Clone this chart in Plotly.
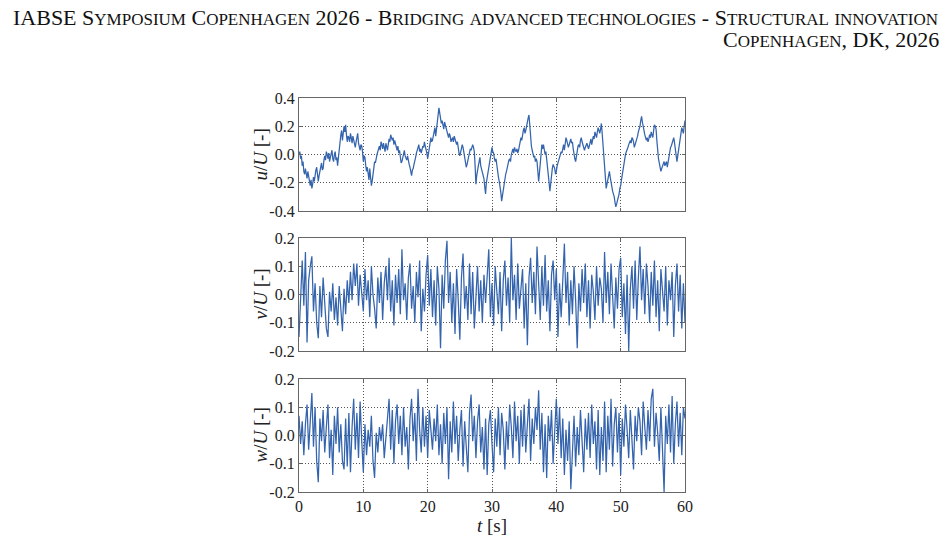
import numpy as np
import plotly.graph_objects as go

# ---------------- data ----------------
# u/U sampled every 0.125 s
u_vals = [
    0.00, 0.02, -0.03, -0.01, -0.08, -0.05, -0.12, -0.14, -0.10, -0.13, -0.17, -0.12,
    -0.15, -0.19, -0.22, -0.18, -0.24, -0.21, -0.16, -0.19, -0.14, -0.11, -0.09, -0.14,
    -0.19, -0.15, -0.12, -0.09, -0.06, -0.11, -0.10, -0.04, -0.01, -0.04, 0.02, 0.00,
    -0.03, 0.01, -0.05, -0.02, 0.01, 0.03, -0.03, -0.05, 0.00, 0.02, -0.04, -0.02,
    -0.08, -0.02, 0.05, 0.10, 0.14, 0.17, 0.10, 0.15, 0.20, 0.16, 0.21, 0.14,
    0.09, 0.13, 0.12, 0.09, 0.15, 0.12, 0.08, 0.13, 0.10, 0.07, 0.05, 0.09,
    0.12, 0.15, 0.08, 0.05, 0.03, 0.07, 0.06, 0.02, -0.05, -0.01, -0.02, -0.08,
    -0.12, -0.09, -0.15, -0.18, -0.10, -0.17, -0.22, -0.19, -0.14, -0.09, -0.05, -0.06,
    -0.02, 0.00, 0.02, 0.05, 0.06, 0.03, 0.09, 0.07, 0.04, 0.08, 0.05, 0.02,
    0.08, 0.05, 0.03, 0.07, 0.11, 0.09, 0.14, 0.12, 0.10, 0.12, 0.07, 0.10,
    0.07, 0.05, 0.03, 0.06, 0.01, 0.03, -0.02, -0.06, -0.05, -0.02, 0.00, 0.03,
    -0.01, -0.03, -0.04, -0.01, -0.05, -0.07, -0.09, -0.12, -0.15, -0.11, -0.10, -0.07,
    -0.05, -0.02, 0.01, 0.03, 0.05, 0.07, 0.02, 0.04, 0.01, 0.04, 0.06, 0.05,
    0.09, 0.06, 0.04, 0.01, -0.03, 0.02, 0.06, 0.08, 0.12, 0.09, 0.10, 0.13,
    0.16, 0.19, 0.13, 0.17, 0.22, 0.28, 0.33, 0.29, 0.27, 0.22, 0.24, 0.20,
    0.18, 0.23, 0.21, 0.18, 0.16, 0.14, 0.12, 0.15, 0.13, 0.09, 0.10, 0.12,
    0.09, 0.13, 0.11, 0.08, 0.07, 0.09, 0.04, 0.01, -0.01, 0.02, 0.03, 0.07,
    0.05, 0.01, -0.02, -0.05, -0.09, -0.07, -0.04, -0.01, 0.00, 0.04, 0.03, 0.05,
    0.07, 0.05, 0.02, -0.08, -0.21, -0.15, -0.10, -0.08, -0.05, -0.02, -0.08, -0.10,
    -0.12, -0.14, -0.17, -0.23, -0.28, -0.20, -0.16, -0.12, -0.09, -0.05, 0.00, 0.03,
    0.05, 0.02, 0.01, -0.03, -0.05, -0.03, -0.09, -0.13, -0.16, -0.19, -0.22, -0.27,
    -0.33, -0.29, -0.25, -0.20, -0.16, -0.14, -0.12, -0.09, -0.07, -0.04, -0.03, -0.05,
    0.00, 0.02, 0.04, 0.01, 0.05, 0.03, 0.02, 0.04, 0.01, 0.03, 0.06, 0.09,
    0.12, 0.10, 0.15, 0.17, 0.19, 0.15, 0.17, 0.21, 0.24, 0.26, 0.28, 0.18,
    0.09, 0.06, 0.03, 0.01, -0.02, -0.01, -0.05, -0.03, -0.05, -0.12, -0.19, -0.13,
    -0.08, 0.00, 0.07, 0.04, 0.07, 0.03, 0.00, 0.02, -0.05, -0.09, -0.13, -0.20,
    -0.26, -0.19, -0.15, -0.10, -0.07, -0.09, -0.10, -0.14, -0.12, -0.08, -0.05, -0.04,
    -0.02, 0.00, 0.02, 0.01, 0.05, 0.07, 0.03, 0.08, 0.12, 0.10, 0.08, 0.05,
    0.07, 0.09, 0.11, 0.08, 0.09, 0.04, -0.01, -0.03, -0.05, -0.01, 0.04, 0.06,
    0.07, 0.05, 0.10, 0.12, 0.09, 0.07, 0.06, 0.03, 0.05, 0.06, 0.08, 0.06,
    0.04, 0.06, 0.09, 0.11, 0.07, 0.10, 0.13, 0.11, 0.16, 0.14, 0.12, 0.16,
    0.19, 0.17, 0.15, 0.18, 0.22, 0.15, 0.07, -0.02, -0.10, -0.17, -0.24, -0.21,
    -0.18, -0.15, -0.12, -0.16, -0.20, -0.23, -0.26, -0.28, -0.30, -0.34, -0.37, -0.35,
    -0.33, -0.31, -0.28, -0.24, -0.22, -0.18, -0.14, -0.11, -0.08, -0.05, 0.00, 0.02,
    0.03, 0.05, 0.07, 0.09, 0.10, 0.08, 0.12, 0.11, 0.09, 0.05, 0.07, 0.08,
    0.10, 0.13, 0.16, 0.18, 0.20, 0.24, 0.27, 0.23, 0.19, 0.16, 0.14, 0.12,
    0.10, 0.12, 0.09, 0.11, 0.14, 0.12, 0.16, 0.14, 0.12, 0.17, 0.21, 0.20,
    0.18, 0.10, 0.02, -0.03, -0.06, -0.09, -0.12, -0.10, -0.08, -0.06, -0.05, -0.08,
    -0.07, -0.05, -0.09, -0.05, -0.02, 0.02, 0.05, 0.06, 0.08, 0.10, 0.12, 0.08,
    0.04, 0.00, -0.05, -0.01, 0.03, 0.06, 0.10, 0.14, 0.19, 0.17, 0.15, 0.20,
    0.24,
]

# v/U and w/U sampled every 0.25 s
v_vals = [
    -0.15, 0.02, 0.12, -0.04,  0.15, -0.17, 0.05, 0.10,  0.135, -0.06, 0.04, -0.10,
    -0.155, 0.03, -0.08, 0.06,  -0.02, -0.12, -0.15, 0.01,  -0.06, 0.04, -0.09, -0.01,
    -0.11, 0.03, -0.05, -0.13,  0.02, -0.07, 0.05, -0.03,  0.08, -0.02, 0.11, 0.03,
    0.11, -0.04, 0.07, 0.01,  -0.06, 0.09, -0.02, 0.05,  -0.08, 0.10, 0.00, -0.05,
    -0.12, 0.06, -0.03, 0.08,  -0.09, 0.04, 0.10, -0.02,  0.13, -0.06, 0.05, -0.11,
    0.07, -0.03, 0.09, -0.07,  0.16, -0.02, 0.04, -0.09,  0.06, 0.11, -0.05, 0.03,
    -0.10, 0.08, -0.01, 0.12,  -0.13, 0.02, -0.06, 0.07,  0.14, -0.04, 0.09, -0.08,
    0.05, -0.11, 0.10, 0.02,  -0.19, 0.07, -0.05, 0.12,  0.19, -0.03, 0.08, -0.10,
    0.04, -0.14, 0.09, -0.02,  -0.16, 0.06, 0.145, -0.05,  0.03, -0.09, 0.11, -0.07,
    0.08, -0.12, 0.02, 0.10,  -0.06, 0.05, -0.10, 0.07,  -0.03, 0.09, 0.16, -0.08,
    0.04, -0.11, 0.10, 0.01,  -0.07, 0.08, -0.13, 0.05,  0.12, -0.04, 0.06, -0.10,
    0.20, -0.02, 0.07, -0.09,  0.11, -0.05, 0.03, 0.09,  -0.12, 0.04, -0.18, 0.06,
    0.13, -0.03, 0.08, -0.07,  0.17, 0.02, -0.09, 0.10,  -0.04, 0.14, -0.06, 0.05,
    -0.13, 0.07, 0.12, -0.02,  0.09, -0.15, 0.04, -0.08,  0.06, 0.18, -0.03, 0.08,
    -0.11, 0.05, -0.07, 0.10,  -0.02, -0.19, 0.04, -0.06,  0.09, -0.03, 0.11, -0.08,
    0.05, -0.12, 0.07, 0.01,  -0.09, 0.10, -0.04, 0.06,  0.02, -0.10, 0.15, -0.03,
    0.08, -0.07, 0.11, 0.00,  -0.12, 0.06, -0.05, 0.09,  0.13, -0.08, 0.04, -0.14,
    0.07, -0.20, 0.02, 0.10,  -0.05, 0.12, -0.09, 0.06,  0.17, -0.02, 0.09, -0.07,
    0.11, 0.03, -0.10, 0.08,  -0.04, 0.12, -0.08, 0.05,  -0.13, 0.09, 0.01, -0.06,
    0.10, -0.11, 0.05, -0.02,  0.08, -0.15, 0.03, 0.11,  -0.06, 0.07, -0.12, 0.04,
    -0.10,
]

w_vals = [
    0.07, -0.03, 0.05, -0.07,  0.04, 0.11, -0.05, 0.08,  0.15, -0.04, 0.10, -0.09,
    -0.165, 0.06, -0.02, 0.09,  -0.06, 0.03, 0.11, -0.08,  0.02, -0.14, 0.07, -0.03,
    0.10, -0.06, 0.04, -0.09,  -0.12, 0.06, -0.11, 0.08,  -0.13, 0.03, 0.13, -0.05,
    0.08, -0.08, 0.12, -0.02,  -0.13, 0.04, -0.07, 0.02,  -0.04, 0.07, -0.09, -0.15,
    0.01, -0.06, 0.03, -0.02,  0.04, -0.08, 0.00, 0.06,  0.13, -0.05, 0.09, -0.10,
    0.05, 0.11, -0.03, 0.07,  -0.07, 0.10, -0.04, 0.03,  -0.12, 0.06, 0.13, -0.02,
    0.08, -0.09, 0.165, 0.02,  -0.06, 0.10, -0.04, 0.07,  -0.08, 0.09, 0.02, -0.05,
    0.06, -0.02, 0.11, -0.07,  0.04, -0.10, 0.08, -0.03,  0.10, -0.155, 0.05, -0.06,
    0.12, -0.03, 0.07, -0.09,  0.02, 0.09, -0.11, 0.05,  -0.04, -0.13, 0.08, 0.145,
    -0.02, 0.07, -0.08, 0.05,  0.11, -0.06, 0.03, -0.12,  0.06, -0.14, 0.04, 0.09,
    -0.03, -0.13, 0.06, -0.04,  0.10, -0.07, 0.08, 0.02,  -0.12, 0.05, -0.05, 0.11,
    0.03, -0.08, 0.12, -0.02,  0.07, -0.10, 0.09, -0.04,  0.11, -0.06, 0.04, 0.13,
    -0.09, 0.06, -0.03, 0.10,  0.02, 0.16, -0.05, 0.08,  -0.13, 0.04, -0.15, 0.07,
    -0.02, 0.09, -0.10, 0.05,  0.13, -0.03, 0.10, -0.08,  0.06, -0.14, 0.02, -0.09,
    0.05, -0.19, -0.04, 0.07,  -0.11, 0.03, -0.07, 0.09,  -0.02, -0.13, 0.06, -0.05,
    0.08, -0.08, 0.11, -0.03,  0.05, -0.12, 0.09, -0.14,  0.03, -0.09, 0.12, -0.13,
    0.07, -0.05, 0.13, -0.11,  0.04, 0.10, -0.06, 0.08,  -0.14, 0.06, -0.04, 0.11,
    0.02, -0.08, 0.09, -0.03,  -0.12, 0.07, -0.02, 0.10,  0.05, -0.07, 0.12, 0.03,
    -0.05, 0.09, -0.02, 0.13,  0.165, -0.04, 0.08, 0.01,  -0.09, 0.10, -0.05, -0.20,
    0.07, -0.03, 0.11, -0.06,  0.14, -0.10, 0.04, 0.12,  -0.04, 0.08, -0.07, 0.10,
    0.06,
]

x_ticks = [0, 10, 20, 30, 40, 50, 60]
x_ticktext = ["0", "10", "20", "30", "40", "50", "60"]
u_ticks = [-0.4, -0.2, 0.0, 0.2, 0.4]
u_ticktext = ["-0.4", "-0.2", "0.0", "0.2", "0.4"]
vw_ticks = [-0.2, -0.1, 0.0, 0.1, 0.2]
vw_ticktext = ["-0.2", "-0.1", "0.0", "0.1", "0.2"]
T_END = 60

# ---------------- figure ----------------
FONT = "Liberation Serif"
LINE = "#3464ad"
fig = go.Figure()
for i, vals in enumerate([u_vals, v_vals, w_vals]):
    sfx = "" if i == 0 else str(i + 1)
    t_vals = np.linspace(0, T_END, len(vals))
    fig.add_trace(go.Scatter(x=t_vals, y=vals, mode="lines",
                             line=dict(color=LINE, width=1.25),
                             xaxis="x" + sfx, yaxis="y" + sfx, showlegend=False,
                             hoverinfo="skip"))

W, H = 947, 541
L, R, T, B = 299, 262, 98, 49
ph = H - T - B
pw = W - L - R
def ydom(top, bot):
    return [(H - B - bot) / ph, (H - B - top) / ph]
def px_x(x):
    return (x - L) / pw
def px_y(y):
    return (H - B - y) / ph

common_ax = dict(showline=True, linecolor="#666666", linewidth=1.2, mirror="ticks",
                 ticks="inside", ticklen=3, tickcolor="#666666",
                 showgrid=True, gridcolor="#555555", griddash="1px,2px", gridwidth=1,
                 zeroline=False,
                 tickfont=dict(family=FONT, size=16, color="#222222"))

doms = [ydom(98, 211), ydom(238, 351), ydom(379, 492)]
yranges = [[-0.4, 0.4], [-0.2, 0.2], [-0.2, 0.2]]
yticks = [(u_ticks, u_ticktext), (vw_ticks, vw_ticktext), (vw_ticks, vw_ticktext)]
layout = dict(width=W, height=H, margin=dict(l=L, r=R, t=T, b=B),
              paper_bgcolor="white", plot_bgcolor="white",
              font=dict(family=FONT, color="#222222"))
for i in range(3):
    sfx = "" if i == 0 else str(i + 1)
    layout["xaxis" + sfx] = dict(common_ax, range=[0, T_END], anchor="y" + sfx,
                                 tickmode="array", tickvals=x_ticks, ticktext=x_ticktext,
                                 showticklabels=(i == 2))
    layout["yaxis" + sfx] = dict(common_ax, range=yranges[i], domain=doms[i],
                                 anchor="x" + sfx, tickmode="array",
                                 tickvals=yticks[i][0], ticktext=yticks[i][1])
fig.update_layout(**layout)

# axis titles
ytitles = ["<i>u</i>/<i>U</i> [-]", "<i>v</i>/<i>U</i> [-]", "<i>w</i>/<i>U</i> [-]"]
centers = [154.5, 294.5, 435.5]
for txt, yc in zip(ytitles, centers):
    fig.add_annotation(text=txt, xref="paper", yref="paper", x=px_x(260), y=px_y(yc),
                       xanchor="center", yanchor="middle", textangle=-90, showarrow=False,
                       font=dict(family=FONT, size=19, color="#222222"))
fig.add_annotation(text="<i>t</i> [s]", xref="paper", yref="paper", x=px_x(492), y=px_y(525),
                   xanchor="center", yanchor="middle", showarrow=False,
                   font=dict(family=FONT, size=19, color="#222222"))

# header (small caps imitation)
BIG, SMALL = 22, 17
def sc(word):
    return word[0] + '<span style="font-size:%dpx">%s</span>' % (SMALL, word[1:].upper())
def allsc(text):
    return '<span style="font-size:%dpx">%s</span>' % (SMALL, text.upper())

line1 = ("IABSE " + sc("Symposium") + " " + sc("Copenhagen") + " 2026 - " + sc("Bridging") + " "
         + allsc("advanced technologies") + " - " + sc("Structural") + " " + allsc("innovation"))
line2 = sc("Copenhagen") + ", DK, 2026"
fig.add_annotation(text=line1, xref="paper", yref="paper", x=px_x(11), y=px_y(17),
                   xanchor="left", yanchor="middle", showarrow=False,
                   font=dict(family=FONT, size=BIG, color="#111111"))
fig.add_annotation(text=line2, xref="paper", yref="paper", x=px_x(941), y=px_y(39),
                   xanchor="right", yanchor="middle", showarrow=False,
                   font=dict(family=FONT, size=BIG, color="#111111"))

fig.write_html("out.html")
